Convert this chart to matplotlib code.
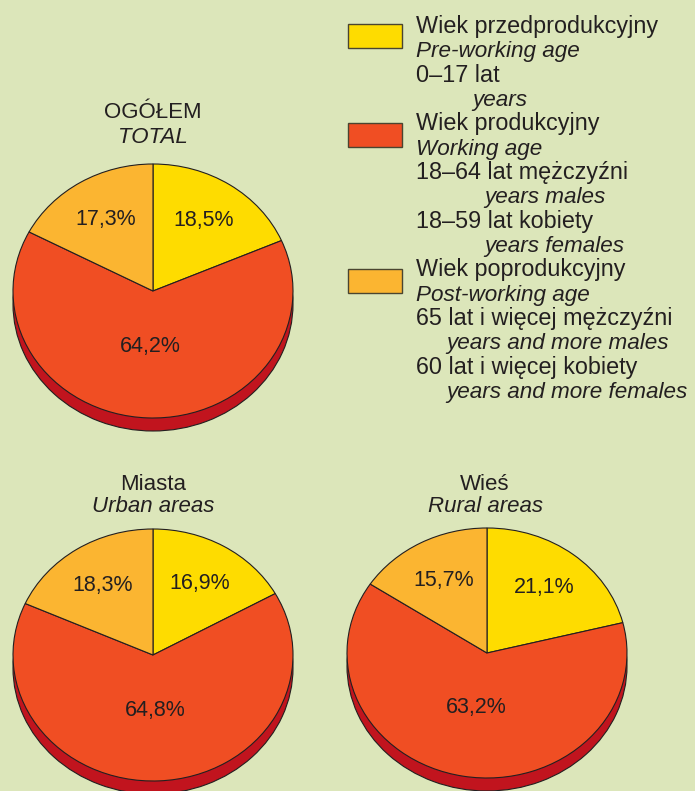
import numpy as np
import matplotlib
matplotlib.use("Agg")
import matplotlib.pyplot as plt
from matplotlib.patches import Rectangle

plt.rcParams['font.family'] = ['Liberation Sans', 'DejaVu Sans']

# dane
groups_pl = ["OGÓŁEM", "Miasta", "Wieś"]
groups_en = ["TOTAL", "Urban areas", "Rural areas"]
pre_working = [18.5, 16.9, 21.1]
working = [64.2, 64.8, 63.2]
post_working = [17.3, 18.3, 15.7]

legend_lines = [
    ("Wiek przedprodukcyjny", "normal", 0),
    ("Pre-working age", "italic", 0),
    ("0–17 lat", "normal", 0),
    ("years", "italic", 56),
    ("Wiek produkcyjny", "normal", 0),
    ("Working age", "italic", 0),
    ("18–64 lat mężczyźni", "normal", 0),
    ("years males", "italic", 68),
    ("18–59 lat kobiety", "normal", 0),
    ("years females", "italic", 68),
    ("Wiek poprodukcyjny", "normal", 0),
    ("Post-working age", "italic", 0),
    ("65 lat i więcej mężczyźni", "normal", 0),
    ("years and more males", "italic", 30),
    ("60 lat i więcej kobiety", "normal", 0),
    ("years and more females", "italic", 30),
]

W, H = 695, 791
BG = '#DCE6BA'
TXT = '#231F20'
colors = ['#FEDC00', '#F04E23', '#FBB531']
depth_col = '#C1141E'

fig = plt.figure(figsize=(W / 100, H / 100), dpi=100, facecolor=BG)

# warstwa tekstu (piksele, od gory)
ax0 = fig.add_axes([0, 0, 1, 1])
ax0.set_xlim(0, W)
ax0.set_ylim(H, 0)
ax0.axis('off')

# polozenie wykresow: srodek i promienie w pikselach
pies = [(153, 291, 140, 127), (153, 655, 140, 126), (487, 653, 140, 125)]
title_pos = [(153, 118, 143), (153, 490, 512), (485, 490, 512)]
label_r = [0.66, 0.44, 0.66]


def draw_pie(cx, cy, rx, ry, vals):
    ax = fig.add_axes([(cx - 1.1 * rx) / W, (H - cy - 1.25 * ry) / H,
                       2.2 * rx / W, 2.35 * ry / H])
    # "grubosc" placka
    ax.pie([1], colors=[depth_col], radius=1, center=(0, -13 / ry),
           startangle=90, wedgeprops=dict(edgecolor=TXT, linewidth=0.8))
    wedges, _ = ax.pie(vals, colors=colors, radius=1, startangle=90,
                       counterclock=False,
                       wedgeprops=dict(edgecolor=TXT, linewidth=0.8))
    ax.set_aspect('auto')
    ax.set_xlim(-1.1, 1.1)
    ax.set_ylim(-1.25, 1.1)
    ax.axis('off')
    for w, v, r in zip(wedges, vals, label_r):
        t = np.deg2rad((w.theta1 + w.theta2) / 2)
        ax.text(r * np.cos(t), r * np.sin(t), f"{v:.1f}%".replace('.', ','),
                ha='center', va='center', fontsize=15.5, color=TXT)


for i in range(3):
    cx, cy, rx, ry = pies[i]
    draw_pie(cx, cy, rx, ry, [pre_working[i], working[i], post_working[i]])
    tx, y1, y2 = title_pos[i]
    ax0.text(tx, y1, groups_pl[i], ha='center', va='baseline',
             fontsize=16, color=TXT)
    ax0.text(tx, y2, groups_en[i], ha='center', va='baseline',
             fontsize=16, color=TXT, style='italic')

# legenda
for y, c in zip([24, 123, 269], colors):
    ax0.add_patch(Rectangle((348, y), 54, 24, facecolor=c,
                            edgecolor='#4A4530', linewidth=1))
for i, (s, st, dx) in enumerate(legend_lines):
    ax0.text(416 + dx, 33 + 24.33 * i, s, ha='left', va='baseline',
             fontsize=16.8 if st == 'normal' else 16.2, color=TXT, style=st)

fig.savefig('out.png', dpi=100, facecolor=BG)
